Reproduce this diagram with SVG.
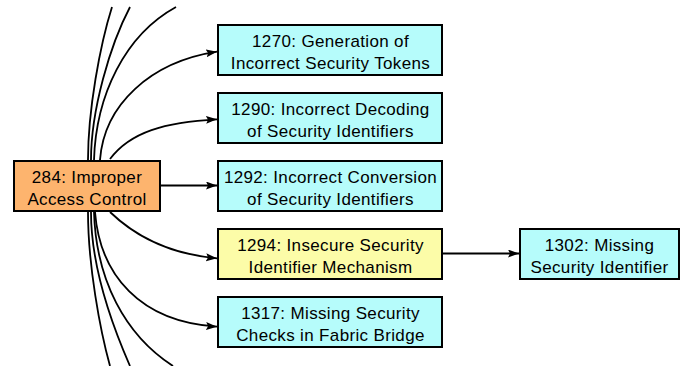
<svg xmlns="http://www.w3.org/2000/svg" width="685" height="366" viewBox="0 0 685 366">
<style>
.box{stroke:#000;stroke-width:2}
.src{fill:#fdb46e}
.cyan{fill:#b6fcfb}
.yel{fill:#fcfca8}
text{font-family:"Liberation Sans",Helvetica,Arial,sans-serif;font-size:17px;letter-spacing:0.35px;text-anchor:middle;fill:#000}
.e{fill:none;stroke:#000;stroke-width:1.8}
.a{marker-end:url(#arr)}
</style>
<defs>
<marker id="arr" markerUnits="userSpaceOnUse" markerWidth="12" markerHeight="9" refX="11" refY="4" orient="auto">
<path d="M0,0 L11,4 L0,8 L2,4 z" fill="#000"/>
</marker>
</defs>
<g id="edges">
<path class="e" d="M88,160 C88,110 100,45 112,7"/>
<path class="e" d="M91,160 C91,110 110,45 130,7"/>
<path class="e" d="M94,160 C96,95 125,35 176,7"/>
<path class="e a" d="M100,160 C104,105 150,62 217,51.7"/>
<path class="e a" d="M110,159 C130,132 165,122 217,119.3"/>
<path class="e a" d="M161,185.5 L217,185.5"/>
<path class="e a" d="M110,212 C135,236 168,254 217,258.3"/>
<path class="e a" d="M95,212 C100,275 140,322 217,326.7"/>
<path class="e" d="M88,212 C88,265 100,330 110,366"/>
<path class="e" d="M91,212 C91,265 112,325 130,366"/>
<path class="e" d="M94,212 C96,280 125,335 173,366"/>
<path class="e a" d="M443,253.5 L519,253.5"/>
</g>
<g id="n284">
<rect class="box src" x="14" y="161" width="146" height="50"/>
<text x="87" y="182.5">284: Improper</text>
<text x="87" y="204.5">Access Control</text>
</g>
<g id="n1270">
<rect class="box cyan" x="218" y="25" width="224" height="50"/>
<text x="330.5" y="46.5">1270: Generation of</text>
<text x="330.5" y="68.5">Incorrect Security Tokens</text>
</g>
<g id="n1290">
<rect class="box cyan" x="218" y="93" width="224" height="50"/>
<text x="330.5" y="114.5">1290: Incorrect Decoding</text>
<text x="330.5" y="136.5">of Security Identifiers</text>
</g>
<g id="n1292">
<rect class="box cyan" x="218" y="161" width="224" height="50"/>
<text x="330.5" y="182.5">1292: Incorrect Conversion</text>
<text x="330.5" y="204.5">of Security Identifiers</text>
</g>
<g id="n1294">
<rect class="box yel" x="218" y="229" width="224" height="50"/>
<text x="330.5" y="250.5">1294: Insecure Security</text>
<text x="330.5" y="272.5">Identifier Mechanism</text>
</g>
<g id="n1317">
<rect class="box cyan" x="218" y="297" width="224" height="50"/>
<text x="330.5" y="318.5">1317: Missing Security</text>
<text x="330.5" y="340.5">Checks in Fabric Bridge</text>
</g>
<g id="n1302">
<rect class="box cyan" x="520" y="229" width="159" height="50"/>
<text x="599.5" y="250.5">1302: Missing</text>
<text x="599.5" y="272.5">Security Identifier</text>
</g>
</svg>
